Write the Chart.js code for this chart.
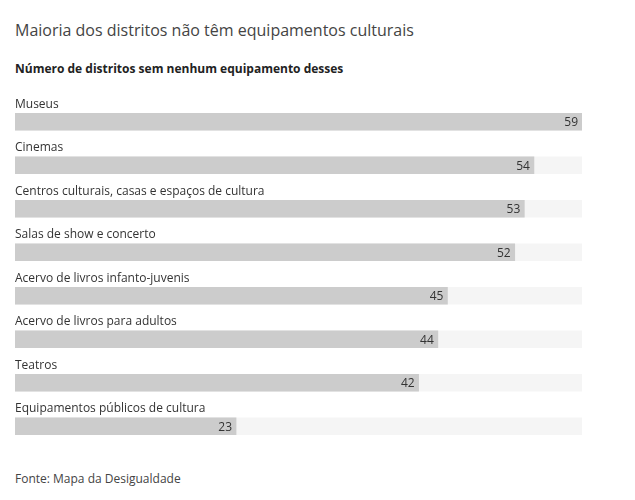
<!DOCTYPE html>
<html><head><meta charset="utf-8">
<script src="https://cdn.jsdelivr.net/npm/chart.js@4"></script>
<style>
body{margin:0;width:635px;height:500px;background:#fff;font-family:"Open Sans",sans-serif;position:relative;overflow:hidden}
#t{position:absolute;left:15px;top:19px;font-size:16px;color:#444}
#s{position:absolute;left:15px;top:60px;font-size:12px;font-weight:bold;color:#222}
#f{position:absolute;left:15px;top:470px;font-size:12px;color:#444}
canvas{position:absolute;left:0;top:0}
</style></head><body>
<div id="t">Maioria dos distritos não têm equipamentos culturais</div>
<div id="s">Número de distritos sem nenhum equipamento desses</div>
<div id="f">Fonte: Mapa da Desigualdade</div>
<div style="position:absolute;left:0;top:0;width:635px;height:500px"><canvas id="c"></canvas></div>
<script>
const categories=["Museus","Cinemas","Centros culturais, casas e espaços de cultura","Salas de show e concerto","Acervo de livros infanto-juvenis","Acervo de livros para adultos","Teatros","Equipamentos públicos de cultura"];
const values=[59,54,53,52,45,44,42,23];
const maxValue=59;
const labelPlugin={id:'lbl',afterDatasetsDraw(ch){const ctx=ch.ctx;const meta=ch.getDatasetMeta(1);ctx.save();ctx.font='12px "Open Sans", sans-serif';ctx.textBaseline='middle';
meta.data.forEach((b,i)=>{const top=b.y-b.height/2;ctx.fillStyle='#333';ctx.textAlign='left';ctx.fillText(categories[i],15,top-9);ctx.textAlign='right';ctx.fillText(String(values[i]),b.x-4,b.y+1);});ctx.restore();}};
new Chart(document.getElementById('c'),{type:'bar',data:{labels:categories,datasets:[
{data:categories.map(()=>maxValue),backgroundColor:'#f5f5f5',grouped:false,barThickness:17,order:2},
{data:values,backgroundColor:'#cccccc',grouped:false,barThickness:17,order:1}]},
options:{indexAxis:'y',responsive:true,maintainAspectRatio:false,animation:false,
layout:{padding:{left:15,right:53,top:100,bottom:52}},
plugins:{legend:{display:false},tooltip:{enabled:false}},
scales:{x:{display:false,min:0,max:maxValue},y:{display:false}}},plugins:[labelPlugin]});
</script></body></html>
